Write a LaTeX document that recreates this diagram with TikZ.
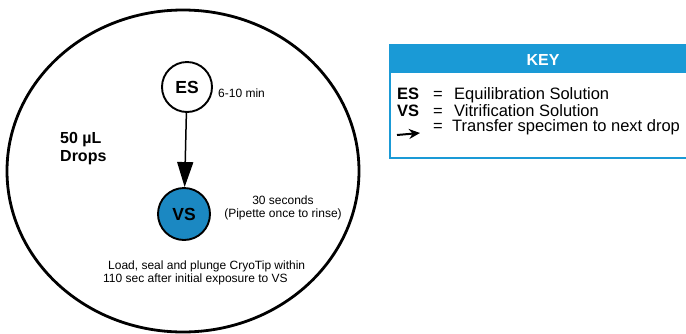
\documentclass[tikz,border=0pt]{standalone}
\usepackage{fontspec}
\setmainfont{Liberation Sans}
\usetikzlibrary{arrows.meta}
\definecolor{keyblue}{HTML}{1A9AD6}
\definecolor{dropblue}{HTML}{1B88C2}
\begin{document}
\begin{tikzpicture}[x=1pt, y=-1pt,
        drop/.style={circle, draw, line width=1.9pt, minimum size=50pt, inner sep=0pt, font=\bfseries\fontsize{17.5}{17}\selectfont},
        small/.style={font=\fontsize{12}{12.5}\selectfont, inner sep=0pt},
        keytext/.style={font=\fontsize{16.5}{17}\selectfont, inner sep=0pt, anchor=base west}]
    \useasboundingbox (0,0) rectangle (686,333);
    % dish
    \draw[line width=2.8pt] (183,171) ellipse (176 and 161);
    \node[drop] (ES) at (187,87) {ES};
    \node[drop, fill=dropblue, minimum size=52pt] (VS) at (184,214) {VS};
    \draw[line width=1.5pt, -{Triangle[length=25pt,width=16pt]}] (ES) -- (VS);
    \node[small, anchor=west] (time1) at (218,93) {6-10 min};
    \node[small, align=center] (time2) at (283,208) {30 seconds\\(Pipette once to rinse)};
    \node[font=\bfseries\fontsize{16}{18}\selectfont, align=left, inner sep=0pt, anchor=west] (vol) at (60,149) {50 µL\\Drops};
    \node[small, align=left, anchor=north west] (load) at (103,261) {\hspace*{5pt}Load, seal and plunge CryoTip within\\110 sec after initial exposure to VS};
    % key
    \draw[keyblue, fill=keyblue, line width=1.5pt] (390,45) rectangle (700,72);
    \draw[keyblue, line width=2.2pt] (390,45) rectangle (700,158);
    \node[text=white, font=\bfseries\fontsize{16}{16}\selectfont] (key) at (543,60) {KEY};
    \node[keytext, font=\bfseries\fontsize{16.5}{17}\selectfont] (kES) at (397,99) {ES};
    \node[keytext] (eq1) at (433,99) {=};
    \node[keytext] (dES) at (454,99) {Equilibration Solution};
    \node[keytext, font=\bfseries\fontsize{16.5}{17}\selectfont] (kVS) at (397,116) {VS};
    \node[keytext] (eq2) at (433,116) {=};
    \node[keytext] (dVS) at (454,116) {Vitrification Solution};
    \coordinate (a1) at (397,135);
    \coordinate (a2) at (420,133);
    \draw[line width=2pt, -{Stealth[length=11pt,width=10pt]}] (a1) -- (a2);
    \node[keytext] (eq3) at (433,131) {=};
    \node[keytext] (dArr) at (452,131) {Transfer specimen to next drop};
\end{tikzpicture}
\end{document}
